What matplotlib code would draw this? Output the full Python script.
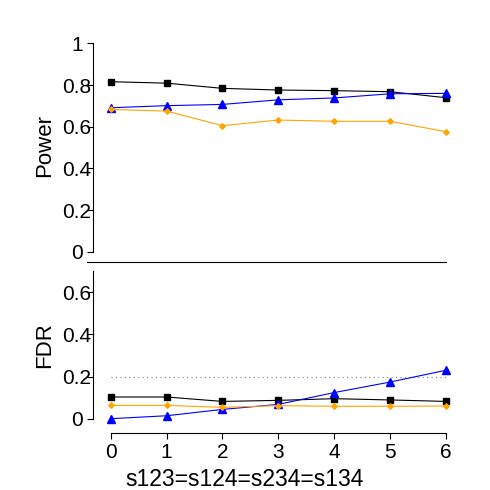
import matplotlib
matplotlib.use("Agg")
import matplotlib.pyplot as plt

plt.rcParams["font.family"] = ["Liberation Sans", "DejaVu Sans"]

x = [0, 1, 2, 3, 4, 5, 6]

power_black = [0.816, 0.809, 0.784, 0.776, 0.773, 0.768, 0.739]
power_blue = [0.691, 0.701, 0.707, 0.729, 0.738, 0.758, 0.760]
power_orange = [0.683, 0.675, 0.605, 0.632, 0.626, 0.626, 0.576]

fdr_black = [0.103, 0.103, 0.082, 0.087, 0.095, 0.089, 0.082]
fdr_blue = [0.000, 0.014, 0.044, 0.068, 0.124, 0.174, 0.230]
fdr_orange = [0.063, 0.063, 0.054, 0.062, 0.059, 0.059, 0.060]

fdr_level = 0.2
power_ticks = [0, 0.2, 0.4, 0.6, 0.8, 1]
power_ticklabels = ["0", "0.2", "0.4", "0.6", "0.8", "1"]
fdr_ticks = [0, 0.2, 0.4, 0.6]
fdr_ticklabels = ["0", "0.2", "0.4", "0.6"]
xlabel = "s123=s124=s234=s134"

W = H = 490.0
fig = plt.figure(figsize=(4.9, 4.9), dpi=100)

ax1 = fig.add_axes([93.3 / W, 1 - 262 / H, 366.7 / W, 227 / H])
ax2 = fig.add_axes([93.3 / W, 1 - 433.3 / H, 366.7 / W, 168.3 / H])


def draw_series(ax, black, blue, orange):
    ax.plot(x, black, color="black", lw=0.8, marker="s", ms=5, zorder=3)
    ax.plot(x, blue, color="blue", lw=0.8, marker="^", ms=6, zorder=3)
    ax.plot(x, orange, color="orange", lw=0.8, marker="D", ms=2.8, zorder=3)


draw_series(ax1, power_black, power_blue, power_orange)
draw_series(ax2, fdr_black, fdr_blue, fdr_orange)
ax2.hlines(fdr_level, 0, 6, colors="gray", linestyles=(0, (1, 3)), lw=0.8, zorder=1)

for ax in (ax1, ax2):
    ax.set_xlim(-0.311, 6.25)
    ax.spines["top"].set_visible(False)
    ax.spines["right"].set_visible(False)
    ax.tick_params(axis="both", length=4.3, width=0.8, labelsize=15)
    ax.tick_params(axis="y", pad=7.4)

ax1.set_ylim(-0.049, 1.04)
ax1.spines["left"].set_bounds(0, 1)
ax1.spines["bottom"].set_bounds(-0.42, 6)
ax1.set_yticks(power_ticks, power_ticklabels)
ax1.set_xticks([])

ax2.set_ylim(-0.0693, 0.7295)
ax2.spines["left"].set_bounds(0, 0.7)
ax2.spines["bottom"].set_bounds(0, 6)
ax2.set_yticks(fdr_ticks, fdr_ticklabels)
ax2.set_xticks(x)
ax2.tick_params(axis="x", pad=3)

# R-style centred y tick labels
for ax in (ax1, ax2):
    for lab in ax.get_yticklabels():
        lab.set_horizontalalignment("center")

fig.text(44.7 / W, 1 - 145.5 / H, "Power", rotation=90, ha="center", va="center", fontsize=16)
fig.text(44.7 / W, 1 - 345 / H, "FDR", rotation=90, ha="center", va="center", fontsize=16)
fig.text(245 / W, 1 - 479 / H, xlabel, ha="center", va="center", fontsize=16.5)

fig.savefig("out.png", dpi=100)
